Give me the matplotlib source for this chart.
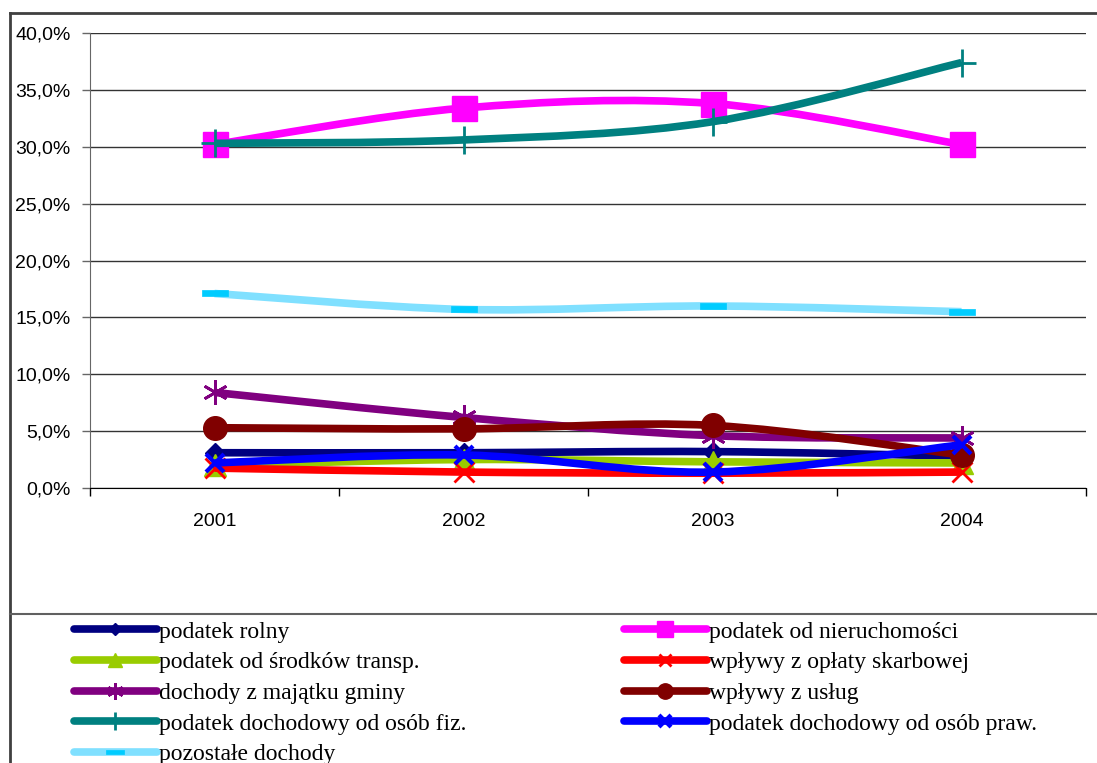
import numpy as np
import matplotlib
matplotlib.use("Agg")
import matplotlib.pyplot as plt
from matplotlib.path import Path
from matplotlib.lines import Line2D
from matplotlib.patches import PathPatch

years = ["2001", "2002", "2003", "2004"]

podatek_rolny = [3.1, 3.1, 3.2, 2.8]
podatek_nieruchomosci = [30.2, 33.4, 33.8, 30.2]
podatek_transp = [2.0, 2.5, 2.3, 2.2]
oplata_skarbowa = [1.75, 1.4, 1.3, 1.4]
majatek_gminy = [8.4, 6.2, 4.6, 4.4]
wplywy_uslug = [5.3, 5.2, 5.5, 2.9]
dochodowy_fiz = [30.3, 30.6, 32.2, 37.4]
dochodowy_praw = [2.2, 2.9, 1.4, 3.8]
pozostale = [17.1, 15.7, 16.0, 15.5]

series_labels = ["podatek rolny", "podatek od nieruchomości", "podatek od środków transp.",
                 "wpływy z opłaty skarbowej", "dochody z majątku gminy", "wpływy z usług",
                 "podatek dochodowy od osób fiz.", "podatek dochodowy od osób praw.",
                 "pozostałe dochody"]
series_values = [podatek_rolny, podatek_nieruchomosci, podatek_transp, oplata_skarbowa,
                 majatek_gminy, wplywy_uslug, dochodowy_fiz, dochodowy_praw, pozostale]

bar_marker = Path([(-1, -0.25), (1, -0.25), (1, 0.25), (-1, 0.25), (-1, -0.25)],
                  [Path.MOVETO, Path.LINETO, Path.LINETO, Path.LINETO, Path.CLOSEPOLY])

styles = [
    dict(color="#000080", marker="D", ms=10, mfc="#000080", mec="#000080", mew=1),
    dict(color="#FF00FF", marker="s", ms=18, mfc="#FF00FF", mec="#FF00FF", mew=1),
    dict(color="#99CC00", marker="^", ms=16, mfc="#99CC00", mec="#99CC00", mew=1),
    dict(color="#FF0000", marker="x", ms=14, mfc="#FF0000", mec="#FF0000", mew=2),
    dict(color="#800080", marker=(6, 2, 0), ms=18, mfc="#800080", mec="#800080", mew=2),
    dict(color="#800000", marker="o", ms=17, mfc="#800000", mec="#800000", mew=1),
    dict(color="#008080", marker="+", ms=20, mfc="#008080", mec="#008080", mew=2),
    dict(color="#0000FF", marker="x", ms=13, mfc="#0000FF", mec="#0000FF", mew=3),
    dict(color="#80E0FF", marker=bar_marker, ms=19, mfc="#00CCFF", mec="#00CCFF", mew=0.5),
]

LW = 5.5

W, H = 1097, 763
fig = plt.figure(figsize=(W / 100, H / 100), dpi=100)
ax = fig.add_axes([90 / W, 1 - 488 / H, (1086 - 90) / W, (488 - 33) / H])

x = np.arange(len(years))


def smooth_path(xs, ys):
    pts = np.column_stack([xs, ys]).astype(float)
    n = len(pts)
    verts = [pts[0]]
    codes = [Path.MOVETO]
    for i in range(n - 1):
        p0 = pts[i - 1] if i > 0 else pts[i]
        p1 = pts[i]
        p2 = pts[i + 1]
        p3 = pts[i + 2] if i + 2 < n else pts[i + 1]
        c1 = p1 + (p2 - p0) / 6.0
        c2 = p2 - (p3 - p1) / 6.0
        verts += [c1, c2, p2]
        codes += [Path.CURVE4] * 3
    return Path(verts, codes)


handles = []
for k, (lab, vals, st) in enumerate(zip(series_labels, series_values, styles)):
    z = 3 + k
    patch = PathPatch(smooth_path(x, vals), facecolor="none", edgecolor=st["color"],
                      lw=LW, capstyle="butt", joinstyle="round", zorder=z)
    ax.add_patch(patch)
    ax.plot(x, vals, linestyle="none", marker=st["marker"], ms=st["ms"],
            mfc=st["mfc"], mec=st["mec"], mew=st["mew"], zorder=z + 0.5)
    h = Line2D([], [], color=st["color"], lw=LW, solid_capstyle="round",
               marker=st["marker"], ms=st["ms"] * 0.65, mfc=st["mfc"], mec=st["mec"],
               mew=st["mew"])
    handles.append(h)

ax.set_xlim(-0.5, 3.5)
ax.set_ylim(0, 40)
ax.set_yticks(np.arange(0, 41, 5))
ax.set_yticklabels([f"{v:.1f}%".replace(".", ",") for v in np.arange(0, 41, 5)])
ax.set_xticks(x)
ax.set_xticklabels(years)
ax.set_xticks(np.arange(-0.5, 3.6, 1.0), minor=True)
ax.yaxis.grid(True, color="#333333", lw=1.0)
ax.set_axisbelow(True)
for s in ["top", "right"]:
    ax.spines[s].set_visible(False)
ax.spines["left"].set_color("#666666")
ax.spines["bottom"].set_color("black")
ax.tick_params(axis="y", direction="out", length=6, width=1, color="#666666",
               pad=8, labelsize=14, labelfontfamily="Liberation Sans")
ax.tick_params(axis="x", which="major", length=0, pad=18, labelsize=14,
               labelfontfamily="Liberation Sans")
ax.tick_params(axis="x", which="minor", direction="out", length=6, width=1, color="black")

# outer frame and separator
fig.add_artist(Line2D([10 / W, 1.0], [1 - 13 / H, 1 - 13 / H], color="#404040", lw=2,
                      transform=fig.transFigure))
fig.add_artist(Line2D([10 / W, 10 / W], [0, 1 - 13 / H], color="#404040", lw=2,
                      transform=fig.transFigure))
fig.add_artist(Line2D([10 / W, 1.0], [1 - 614 / H, 1 - 614 / H], color="#606060", lw=1.5,
                      transform=fig.transFigure))

left_idx = [0, 2, 4, 6, 8]
right_idx = [1, 3, 5, 7]
leg_kw = dict(frameon=False, loc="upper left", borderpad=0, borderaxespad=0,
              handlelength=3.5, handletextpad=0.08, labelspacing=0.39,
              prop={"family": "Liberation Serif", "size": 17})
leg1 = fig.legend([handles[i] for i in left_idx], [series_labels[i] for i in left_idx],
                  bbox_to_anchor=(74 / W, 1 - 621 / H), **leg_kw)
leg2 = fig.legend([handles[i] for i in right_idx], [series_labels[i] for i in right_idx],
                  bbox_to_anchor=(624 / W, 1 - 621 / H), **leg_kw)

fig.savefig("out.png", dpi=100)
